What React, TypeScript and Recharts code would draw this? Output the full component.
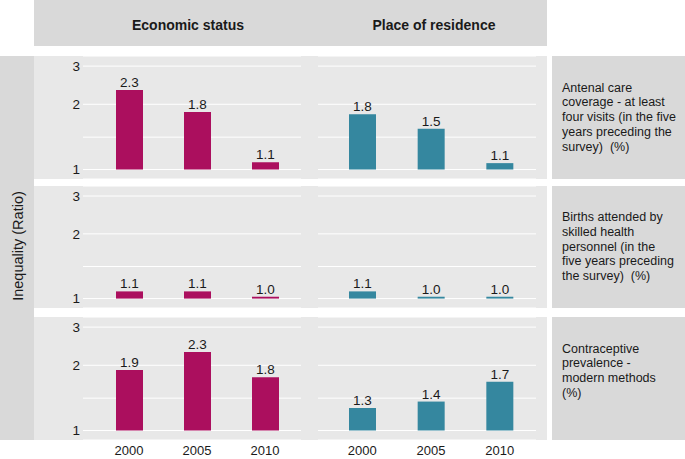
import React from 'react';
import { BarChart, Bar, XAxis, YAxis, CartesianGrid, LabelList } from 'recharts';

// years on the x axis, shared by every facet
const years = ['2000', '2005', '2010'];
// major gridlines at 1, 2, 3 and a minor one between 1 and 2 (log scale)
const gridValues = [1, 1.41, 2, 3];

// inequality ratios, economic status column
const economicAntenatal = [2.33, 1.84, 1.08];
const economicBirths = [1.08, 1.08, 1.02];
const economicContraceptive = [1.9, 2.3, 1.76];

// inequality ratios, place of residence column
const residenceAntenatal = [1.8, 1.54, 1.07];
const residenceBirths = [1.08, 1.02, 1.02];
const residenceContraceptive = [1.27, 1.36, 1.68];

const columnTitles = ['Economic status', 'Place of residence'];
const rowTitles = [
  ['Antenal care', 'coverage - at least', 'four visits (in the five', 'years preceding the', 'survey)  (%)'],
  ['Births attended by', 'skilled health', 'personnel (in the', 'five years preceding', 'the survey)  (%)'],
  ['Contraceptive', 'prevalence -', 'modern methods', '(%)', ''],
];
const yAxisTitle = 'Inequality (Ratio)';

const MAGENTA = '#ab0f5e';
const TEAL = '#35879f';
const PANEL_BG = '#e8e8e8';
const STRIP_BG = '#d9d9d9';
const TEXT = '#1a1a1a';
const FONT = '"Liberation Sans", Arial, Helvetica, sans-serif';

const rows = [
  { top: 56, height: 123, econ: economicAntenatal, res: residenceAntenatal },
  { top: 186, height: 122, econ: economicBirths, res: residenceBirths },
  { top: 317, height: 123, econ: economicContraceptive, res: residenceContraceptive },
];

interface FacetProps {
  values: number[];
  color: string;
  left: number;
  top: number;
  height: number;
  showY: boolean;
  showX: boolean;
  padLeft: number;
}

const Facet = ({ values, color, left, top, height, showY, showX, padLeft }: FacetProps) => {
  const data = years.map((year, i) => ({ year, value: values[i] }));
  const yw = showY ? 49 : 0;
  const xh = showX ? 19 : 0;
  return (
    <div style={{ position: 'absolute', left: left - yw, top }}>
      <BarChart width={218 + yw} height={height + xh} data={data} margin={{ top: 0, right: 0, bottom: 0, left: 0 }}>
        <CartesianGrid vertical={false} stroke="#ffffff" strokeWidth={1} />
        <XAxis
          dataKey="year"
          hide={!showX}
          height={xh}
          axisLine={false}
          tickLine={false}
          tickSize={0}
          tickMargin={6}
          interval={0}
          padding={{ left: padLeft, right: 2 }}
          tick={{ fill: TEXT, fontSize: 13 }}
        />
        <YAxis
          type="number"
          scale="log"
          domain={[0.904, 3.34]}
          allowDataOverflow
          ticks={gridValues}
          hide={!showY}
          width={yw}
          axisLine={false}
          tickLine={false}
          tickSize={1}
          tickMargin={2}
          tickFormatter={(v: number) => (Number.isInteger(v) ? String(v) : '')}
          tick={{ fill: TEXT, fontSize: 13.5 }}
        />
        <Bar dataKey={(d: { value: number }) => [1, d.value]} fill={color} barSize={27} isAnimationActive={false}>
          <LabelList
            dataKey="value"
            position="top"
            offset={3}
            formatter={(v: any) => Number(v).toFixed(1)}
            fill={TEXT}
            fontSize={13.5}
          />
        </Bar>
      </BarChart>
    </div>
  );
};

export default function App() {
  return (
    <div
      style={{
        position: 'absolute',
        left: 0,
        top: 0,
        width: 685,
        height: 459,
        background: '#ffffff',
        fontFamily: FONT,
        color: TEXT,
        overflow: 'hidden',
      }}
    >
      {/* column header strip */}
      <div style={{ position: 'absolute', left: 34, top: 0, width: 513, height: 46, background: STRIP_BG }} />
      {columnTitles.map((t, i) => (
        <div
          key={t}
          style={{
            position: 'absolute',
            left: (i === 0 ? 188 : 434) - 100,
            top: 0,
            width: 200,
            height: 46,
            lineHeight: '50px',
            textAlign: 'center',
            fontWeight: 'bold',
            fontSize: 14,
          }}
        >
          {t}
        </div>
      ))}

      {/* left y title strip */}
      <div style={{ position: 'absolute', left: 0, top: 56, width: 34, height: 384, background: STRIP_BG }} />
      <div
        style={{
          position: 'absolute',
          left: 18 - 192,
          top: 246 - 10,
          width: 384,
          height: 20,
          lineHeight: '20px',
          textAlign: 'center',
          fontSize: 14.5,
          transform: 'rotate(-90deg)',
        }}
      >
        {yAxisTitle}
      </div>

      {rows.map((r, ri) => (
        <React.Fragment key={ri}>
          <div style={{ position: 'absolute', left: 34, top: r.top, width: 513, height: r.height, background: PANEL_BG }} />
          <div
            style={{
              position: 'absolute',
              left: 552,
              top: r.top,
              width: 133,
              height: r.height,
              background: STRIP_BG,
              display: 'flex',
              flexDirection: 'column',
              justifyContent: 'center',
              paddingLeft: 10,
              boxSizing: 'border-box',
              fontSize: 12.5,
            }}
          >
            {rowTitles[ri].map((line, li) => (
              <div key={li} style={{ height: 14.8, lineHeight: '14.8px', whiteSpace: 'pre' }}>
                {line}
              </div>
            ))}
          </div>
          <Facet values={r.econ} color={MAGENTA} left={83} top={r.top} height={r.height} showY showX={ri === 2} padLeft={12} />
          <Facet values={r.res} color={TEAL} left={318} top={r.top} height={r.height} showY={false} showX={ri === 2} padLeft={10} />
        </React.Fragment>
      ))}
    </div>
  );
}
